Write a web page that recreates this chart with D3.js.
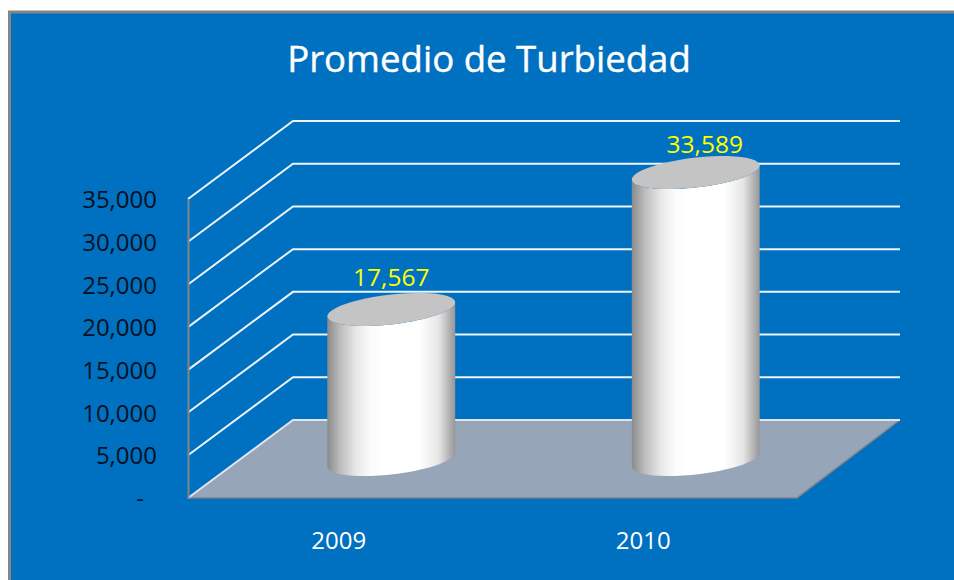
<!doctype html>
<html>
  <head>
    <meta charset="utf-8">
    <script src="https://cdnjs.cloudflare.com/ajax/libs/d3/7.8.5/d3.min.js"></script>
    <style>
      html, body { margin: 0; padding: 0; background: #fff; }
      svg { display: block; font-family: "Open Sans", sans-serif; }
    </style>
  </head>
  <body>
    <svg id="chart" width="954" height="580"></svg>
    <script>
      const years = ["2009", "2010"];
      const turbidity = [17567, 33589];
      const tickValues = [0, 5000, 10000, 15000, 20000, 25000, 30000, 35000];
      const chartTitle = "Promedio de Turbiedad";

      const svg = d3.select("#chart");

      // 3d box: front wall at x=188, back wall pushed up and to the right
      const depthX = 105, depthY = 78;
      const frontLeft = 188, frontRight = 797;

      const y = d3.scaleLinear().domain([0, 35000]).range([498, 199]);
      const x = d3.scaleBand().domain(years)
        .range([frontLeft + depthX / 2 - 1.5, frontRight + depthX / 2 - 1.5])
        .paddingInner(0.58).paddingOuter(0.29);

      const defs = svg.append("defs");
      const side = defs.append("linearGradient").attr("id", "side");
      [[0, "#8a8a8a"], [0.1, "#bcbcbc"], [0.22, "#e6e6e6"], [0.34, "#fcfcfc"], [0.42, "#ffffff"], [0.72, "#ffffff"], [0.87, "#e6e6e6"], [1, "#969696"]]
        .forEach(s => side.append("stop").attr("offset", s[0]).attr("stop-color", s[1]));

      svg.append("rect").attr("x", 9.5).attr("y", 12).attr("width", 960).attr("height", 580)
        .attr("fill", "#0070c0").attr("stroke", "#858585").attr("stroke-width", 3);

      svg.append("text").attr("x", 489).attr("y", 72).attr("text-anchor", "middle")
        .attr("fill", "#fff").attr("stroke", "#fff").attr("stroke-width", 0.4)
        .attr("font-size", 36.6).text(chartTitle);

      // floor
      const line = d3.line();
      const y0 = y(0);
      svg.append("path")
        .attr("d", line([[frontLeft, y0], [frontLeft + depthX, y0 - depthY], [frontRight + depthX - 2, y0 - depthY], [frontRight, y0]]) + "Z")
        .attr("fill", "#97a5b9");
      svg.append("path")
        .attr("d", line([[frontLeft, y0], [frontRight, y0], [frontRight + depthX - 2, y0 - depthY]]))
        .attr("fill", "none").attr("stroke", "#7b7f86").attr("stroke-width", 1.5);

      // grid runs along the side wall and then the back wall
      svg.append("g").selectAll("path").data(tickValues).join("path")
        .attr("d", d => line([[frontLeft, y(d)], [frontLeft + depthX, y(d) - depthY], [900, y(d) - depthY]]))
        .attr("fill", "none")
        .attr("stroke", d => d === 0 ? "#dfe5ee" : "#eef4fa")
        .attr("stroke-width", 2);

      // value axis
      const axis = svg.append("g").attr("transform", `translate(${frontLeft},0)`)
        .call(d3.axisLeft(y).tickValues(tickValues).tickSize(0).tickPadding(31)
          .tickFormat(d => d === 0 ? "-" : d3.format(",")(d)));
      axis.select(".domain").attr("stroke", "#7f858c").attr("stroke-width", 2);
      axis.selectAll("text").attr("fill", "#06111f").attr("font-size", 24)
        .attr("font-family", '"Open Sans", sans-serif')
        .attr("dx", d => d === 0 ? -13 : 0)
        .attr("y", 1);

      // category labels sit under the front edge
      svg.append("g").selectAll("text").data(years).join("text")
        .attr("x", d => x(d) + x.bandwidth() / 2 - depthX / 2)
        .attr("y", 549).attr("text-anchor", "middle")
        .attr("fill", "#fff").attr("font-size", 24).text(d => d);

      // cylinders: tilted ellipse caps, right end sits higher than left
      const baseLift = 38.5, tilt = 7, minor = 15;
      const cap = (cx, cy, from, to) => d3.range(0, 49).map(i => {
        const t = from + (to - from) * i / 48;
        return [cx + x.bandwidth() / 2 * Math.cos(t), cy - tilt * Math.cos(t) - minor * Math.sin(t)];
      });

      const bars = svg.append("g").selectAll("g")
        .data(years.map((year, i) => ({ year, value: turbidity[i] })))
        .join("g");

      bars.append("path")
        .attr("d", d => {
          const cx = x(d.year) + x.bandwidth() / 2;
          const top = y(d.value) - baseLift, bottom = y0 - baseLift;
          return line([...cap(cx, top, Math.PI, 2 * Math.PI), ...cap(cx, bottom, 2 * Math.PI, Math.PI)]) + "Z";
        })
        .attr("fill", "url(#side)");

      bars.append("path")
        .attr("d", d => line(cap(x(d.year) + x.bandwidth() / 2, y(d.value) - baseLift, 0, 2 * Math.PI)) + "Z")
        .attr("fill", "#c4c4c4");

      bars.append("text")
        .attr("x", (d, i) => x(d.year) + x.bandwidth() / 2 + (i ? 9 : 0))
        .attr("y", (d, i) => y(d.value) - baseLift - (i ? 20 : 23))
        .attr("text-anchor", "middle")
        .attr("fill", "#ffff00").attr("font-size", 24.5)
        .text(d => d3.format(",")(d.value));
    </script>
  </body>
</html>
